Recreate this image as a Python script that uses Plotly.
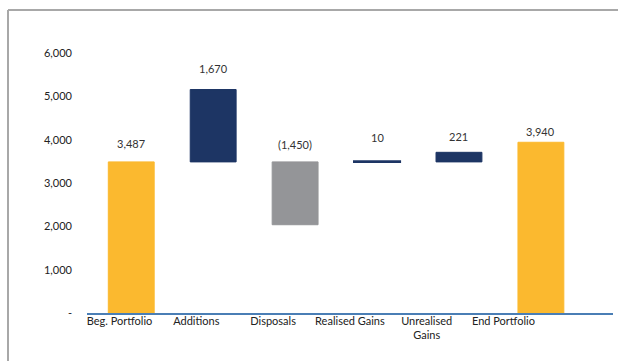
import plotly.graph_objects as go

# Portfolio movement, values in thousands
categories = ["Beg. Portfolio", "Additions", "Disposals", "Realised Gains",
              "Unrealised<br>Gains", "End Portfolio"]
beg_portfolio = 3487
movements = [1670, -1450, 10, 221]
end_portfolio = 3940

y_tick_vals = [0, 1000, 2000, 3000, 4000, 5000, 6000]
y_tick_text = ["-", "1,000", "2,000", "3,000", "4,000", "5,000", "6,000"]

GOLD = "#FBB92F"
NAVY = "#1D3564"
GREY = "#949598"

W, H = 618, 361
ML, MR, MT, MB = 87, 5, 53, 48

heights = [beg_portfolio] + movements + [end_portfolio]
bases = [0] + [beg_portfolio] * len(movements) + [0]
colors = [GOLD] + [NAVY if m >= 0 else GREY for m in movements] + [GOLD]
# outline widths: the tiny realised-gains bar gets a thicker edge so it stays visible
edge_widths = [1, 1, 1, 2.2, 1, 1]


def fmt(v):
    s = f"{abs(v):,}"
    return f"({s})" if v < 0 else s


idx = list(range(len(categories)))

fig = go.Figure()
fig.add_trace(go.Bar(
    x=idx,
    y=heights,
    base=bases,
    marker=dict(color=colors, line=dict(color=colors, width=edge_widths)),
    width=0.56,
    hoverinfo="skip",
))
# invisible trace carrying the category axis labels
fig.add_trace(go.Scatter(
    x=idx, y=[0] * len(idx), xaxis="x2", mode="markers",
    marker=dict(opacity=0), hoverinfo="skip",
))

# value labels above each bar
label_shift = [10, 13, 9, 15, 7, 2]
for i, (h, b) in enumerate(zip(heights, bases)):
    top = max(b, b + h)
    fig.add_annotation(
        x=i, y=top, text=fmt(h), showarrow=False,
        yanchor="bottom", yshift=label_shift[i],
        font=dict(size=11, color="#333333"),
    )

# frame lines along the top and left edges
pw, ph = W - ML - MR, H - MT - MB
def px_x(p):
    return (p - ML) / pw
def px_y(p):
    return (H - MB - p) / ph

fig.add_shape(type="line", xref="paper", yref="paper",
              x0=px_x(8), x1=px_x(W + 2), y0=px_y(10), y1=px_y(10),
              line=dict(color="#A8A8A8", width=2))
fig.add_shape(type="line", xref="paper", yref="paper",
              x0=px_x(8), x1=px_x(8), y0=px_y(10), y1=px_y(H + 2),
              line=dict(color="#A8A8A8", width=2))

fig.update_layout(
    width=W, height=H,
    margin=dict(l=ML, r=MR, t=MT, b=MB),
    paper_bgcolor="white", plot_bgcolor="white",
    showlegend=False,
    font=dict(family="Lato, 'Open Sans', sans-serif", size=11, color="#222222"),
    xaxis=dict(
        tickmode="array", tickvals=idx, showticklabels=False,
        range=[-0.54, 5.88], showgrid=False, zeroline=False,
        showline=True, linecolor="#4A7EB5", linewidth=1.5, ticks="",
    ),
    xaxis2=dict(
        overlaying="x", side="bottom", anchor="y",
        tickmode="array", tickvals=idx, ticktext=categories,
        range=[-0.423, 6.426], showgrid=False, zeroline=False,
        showline=False, ticks="", tickfont=dict(size=11, color="#222222"),
    ),
    yaxis=dict(
        range=[0, 6000], tickmode="array", tickvals=y_tick_vals, ticktext=y_tick_text,
        showgrid=False, zeroline=False, showline=False, ticks="",
        ticklabelstandoff=14, tickfont=dict(size=11, color="#222222"),
    ),
)

fig.write_html("out.html")
